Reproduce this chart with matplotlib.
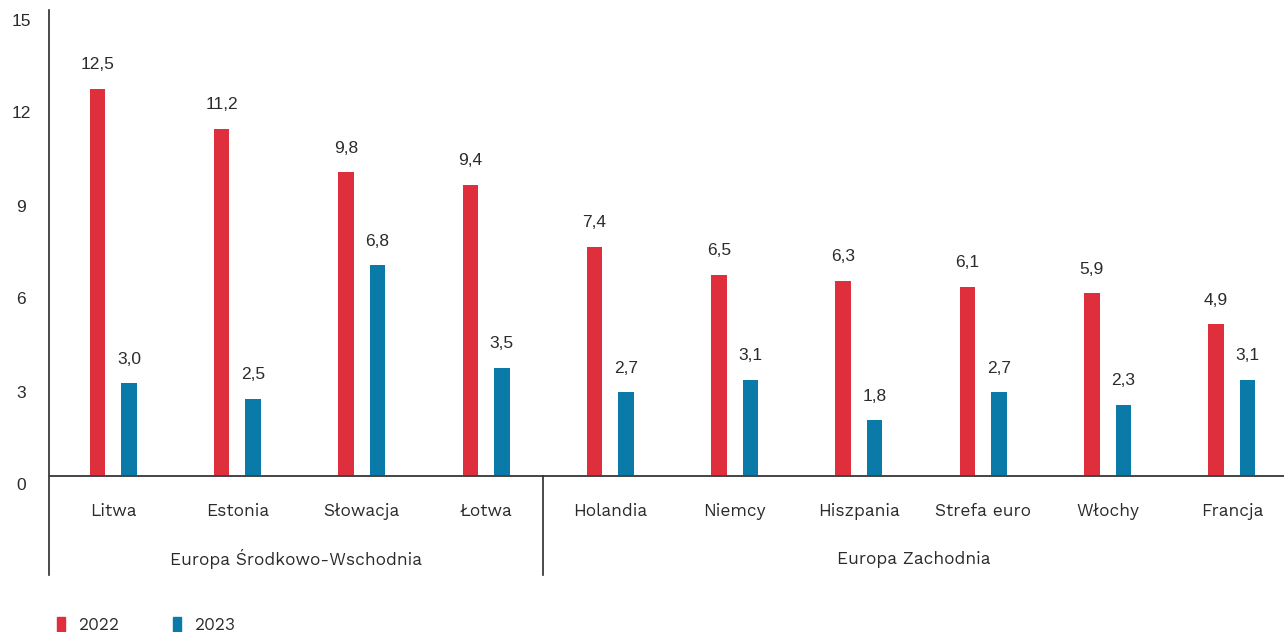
import matplotlib
matplotlib.use("Agg")
import matplotlib.pyplot as plt
import numpy as np

categories = ["Litwa", "Estonia", "Słowacja", "Łotwa", "Holandia", "Niemcy",
              "Hiszpania", "Strefa euro", "Włochy", "Francja"]
v2022 = [12.5, 11.2, 9.8, 9.4, 7.4, 6.5, 6.3, 6.1, 5.9, 4.9]
v2023 = [3.0, 2.5, 6.8, 3.5, 2.7, 3.1, 1.8, 2.7, 2.3, 3.1]
series_names = ["2022", "2023"]
groups = ["Europa Środkowo-Wschodnia", "Europa Zachodnia"]
group_sizes = [4, 6]
yticks = [0, 3, 6, 9, 12, 15]

RED = "#E02F3C"
BLUE = "#0A7BA8"
TXT = "#2b2b2b"
CAT_FONT = ["Work Sans", "Inter", "DejaVu Sans"]
NUM_FONT = ["Liberation Sans", "DejaVu Sans"]

W, H = 1284, 632
fig = plt.figure(figsize=(W / 100, H / 100), dpi=100)
ax_left, ax_right = 49, 1284
y0_px, y15_px = 476, 11
ax = fig.add_axes([ax_left / W, 1 - y0_px / H, (ax_right - ax_left) / W, (y0_px - y15_px) / H])

spacing = 124.3
x = np.arange(len(categories))
off = 15.75 / spacing
bw = 15.5 / spacing
ax.bar(x - off, v2022, width=bw, color=RED, zorder=2)
ax.bar(x + off, v2023, width=bw, color=BLUE, zorder=2)

x0 = -0.5 - 2 / spacing
ax.set_xlim(x0, x0 + (ax_right - ax_left) / spacing)
ax.set_ylim(0, 15)

for xi, a, b in zip(x, v2022, v2023):
    ax.annotate(f"{a:.1f}".replace(".", ","), (xi - off, a), xytext=(0, 24), textcoords="offset pixels",
                ha="center", va="center", fontsize=12.5, color=TXT, family=NUM_FONT)
    ax.annotate(f"{b:.1f}".replace(".", ","), (xi + off, b), xytext=(0, 24), textcoords="offset pixels",
                ha="center", va="center", fontsize=12.5, color=TXT, family=NUM_FONT)

for s in ["top", "right", "left", "bottom"]:
    ax.spines[s].set_visible(False)
ax.set_xticks([])
ax.set_yticks(yticks)
ax.set_yticklabels([])
ax.tick_params(left=False)
for t in yticks:
    ax.annotate(str(t), (0, t), xycoords=("figure fraction", "data"), xytext=(21, -10),
                textcoords="offset pixels", ha="center", va="center", fontsize=12.5,
                color=TXT, family=NUM_FONT, annotation_clip=False)

def fy(py):
    return 1 - py / H
def fx(px):
    return px / W

fig.add_artist(plt.Line2D([fx(49), fx(49)], [fy(10), fy(575)], color=TXT, lw=1.2))
fig.add_artist(plt.Line2D([fx(49), fx(1284)], [fy(476), fy(476)], color="#444444", lw=1.4))
fig.add_artist(plt.Line2D([fx(543), fx(543)], [fy(476), fy(575)], color=TXT, lw=1.2))

for xi, c in zip(x, categories):
    ax.annotate(c, (xi, 0), xytext=(0, -36), textcoords="offset pixels", ha="center", va="center",
                fontsize=12.5, color=TXT, family=CAT_FONT, annotation_clip=False)

ax.text(0.5 * (fx(49) + fx(543)), fy(559), groups[0], transform=fig.transFigure, ha="center",
        va="center", fontsize=12.5, color=TXT, family=CAT_FONT)
ax.text(0.5 * (fx(543) + fx(1284)), fy(559), groups[1], transform=fig.transFigure, ha="center",
        va="center", fontsize=12.5, color=TXT, family=CAT_FONT)

for px, col, name in [(57, RED, series_names[0]), (173, BLUE, series_names[1])]:
    fig.add_artist(plt.Rectangle((fx(px), fy(632)), 8 / W, 15 / H, color=col, transform=fig.transFigure))
    fig.text(fx(px + 21), fy(625), name, ha="left", va="center", fontsize=12.5, color=TXT, family=CAT_FONT)

fig.savefig("out.png", dpi=100)
